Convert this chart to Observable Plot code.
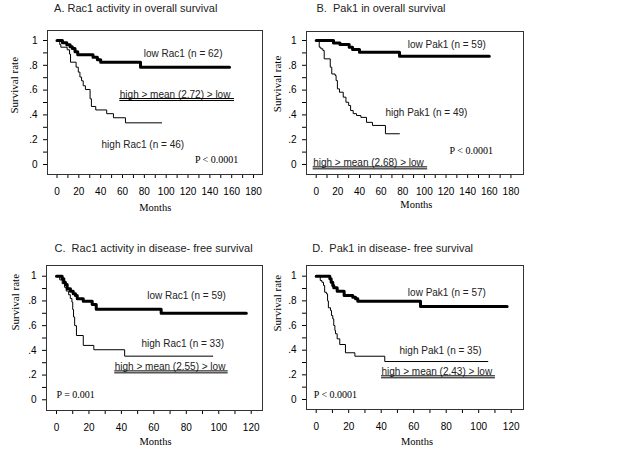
<!DOCTYPE html>
<html><head><meta charset="utf-8">
<script src="https://cdn.jsdelivr.net/npm/d3@7"></script>
<script src="https://cdn.jsdelivr.net/npm/@observablehq/plot@0.6"></script>
<style>
body{margin:0;background:#fff;}
#chart{position:relative;width:638px;height:456px;overflow:hidden;background:#fff;}
#chart svg{position:absolute;background:transparent;}
</style></head><body><div id="chart"></div>
<script>
// ---------- DATA ----------
const panelTitles = [
  "A. Rac1 activity in overall survival",
  "B.  Pak1 in overall survival",
  "C.  Rac1 activity in disease- free survival",
  "D.  Pak1 in disease- free survival"
];
const lowLabels  = ["low Rac1 (n = 62)", "low Pak1 (n = 59)", "low Rac1 (n = 59)", "low Pak1 (n = 57)"];
const highLabels = ["high Rac1 (n = 46)", "high Pak1 (n = 49)", "high Rac1 (n = 33)", "high Pak1 (n = 35)"];
const cutLabels  = ["high > mean (2.72) > low", "high > mean (2.68) > low", "high > mean (2.55) > low", "high > mean (2.43) > low"];
const pLabels    = ["P < 0.0001", "P < 0.0001", "P = 0.001", "P < 0.0001"];
const xAxisLabel = "Months";
const yAxisLabel = "Survival rate";

// y ticks
const yMajor = [0, .2, .4, .6, .8, 1];
const yMajorLabels = ["0", ".2", ".4", ".6", ".8", "1"];
const yMinor = [.1, .3, .5, .7, .9];
// x ticks
const xMajorOS = [0, 20, 40, 60, 80, 100, 120, 140, 160, 180];
const xMinorOS = [10, 30, 50, 70, 90, 110, 130, 150, 170];
const xMajorDFS = [0, 20, 40, 60, 80, 100, 120];
const xMinorDFS = [10, 30, 50, 70, 90, 110];

// A: Rac1 activity, overall survival
const aLowMonths  = [0, 5, 9, 12, 14, 16.5, 19, 33, 37, 40, 76.5, 158];
const aLowSurv    = [1, .981, .965, .95, .935, .91, .885, .865, .845, .825, .785, .785];
const aHighMonths = [0, 2.5, 3.5, 9.3, 11.5, 12.4, 17.5, 19.5, 21, 22.5, 24, 26, 30.3, 31.5, 35.5, 45.5, 51.7, 62.7, 96];
const aHighSurv   = [1, .967, .946, .925, .89, .825, .785, .745, .705, .675, .635, .605, .53, .468, .44, .41, .377, .336, .336];
// B: Pak1, overall survival
const bLowMonths  = [0, 16, 22, 30.5, 33.6, 40, 77, 160];
const bLowSurv    = [1, .98, .968, .946, .927, .906, .874, .874];
const bHighMonths = [0, 2.8, 4.3, 6.2, 7.4, 13, 14.4, 17.5, 18.4, 19.6, 21.5, 25, 27.5, 30, 31.8, 34.2, 37.3, 41.3, 46.5, 52, 64, 77];
const bHighSurv   = [1, .946, .933, .919, .852, .785, .73, .718, .677, .61, .583, .543, .502, .476, .435, .41, .395, .38, .34, .315, .248, .248];
// C: Rac1 activity, disease-free survival
const cLowMonths  = [0, 3.5, 4.5, 5.5, 6.6, 8.6, 10.3, 11.7, 12.8, 16.5, 22, 24.5, 64.5, 117];
const cLowSurv    = [1, .979, .951, .933, .898, .879, .858, .844, .817, .798, .771, .733, .70, .70];
const cHighMonths = [0, 2, 3.5, 5, 6, 7.5, 8.5, 9.5, 10, 10.5, 11.2, 12.3, 16.5, 23, 42, 96.4];
const cHighSurv   = [1, .97, .94, .91, .88, .85, .82, .79, .73, .67, .6, .52, .44, .405, .353, .353];
// D: Pak1, disease-free survival
const dLowMonths  = [0, 8.4, 9.2, 10.2, 10.8, 12.9, 17.2, 22.5, 24.2, 25.6, 64.2, 117.5];
const dLowSurv    = [1, .979, .951, .925, .906, .878, .843, .83, .817, .797, .754, .754];
const dHighMonths = [0, 2.5, 3.5, 4.5, 5.2, 6.3, 7, 7.5, 8.8, 9.4, 10.2, 10.8, 11.5, 11.9, 12.9, 14.5, 18, 23.8, 42.2, 105.8];
const dHighSurv   = [1, .965, .951, .925, .87, .857, .8, .744, .722, .681, .654, .6, .56, .533, .492, .446, .379, .351, .308, .308];

// ---------- LAYOUT (page pixels / annotation anchors) ----------
const SANS = "'Liberation Sans', Arial, Helvetica, sans-serif";
const SERIF = "'Liberation Serif', 'Times New Roman', serif";
const layouts = [
  { box:[0,0,290,228], frame:[47,262,30,174], xd:[-8.7,188.2], yd:[-0.0806,1.0806], os:true,
    title:[6.6,-22.5], ylab:[-33,11], xlabMid:90, xlabDy:33,
    low:[79.5,.895], high:[40.8,.161], cut:[57.5,.565], under:[57.5,162.6,.532,.516], p:[126.3,.04] },
  { box:[260,0,290,228], frame:[306,523,31,174], xd:[-8.96,191.6], yd:[-0.0806,1.0726], os:true,
    title:[10,-23.5], ylab:[-29,9.2], xlabMid:92.6, xlabDy:30,
    low:[84.6,.968], high:[64,.414], cut:[-2.8,.014], under:[-2.8,103,-.019,-.035], p:[123.3,.107] },
  { box:[0,230,290,226], frame:[46,262,265,410], xd:[-6.16,126.96], yd:[-0.0866,1.0866], os:false,
    title:[8,-16.7], ylab:[-31,-7.5], xlabMid:61, xlabDy:30.7,
    low:[55.9,.844], high:[52.4,.453], cut:[35.9,.269], under:[35.9,105.8,.234,.218], p:[0,.04] },
  { box:[260,230,290,226], frame:[306,523,265,409], xd:[-5.97,127.57], yd:[-0.0811,1.0868], os:false,
    title:[5.7,-16.7], ylab:[-29,-6], xlabMid:62, xlabDy:31.7,
    low:[56.4,.865], high:[51.3,.392], cut:[40.2,.221], under:[40.2,110.3,.192,.176], p:[-1.5,.035] }
];

const series = [
  [aLowMonths, aLowSurv, aHighMonths, aHighSurv],
  [bLowMonths, bLowSurv, bHighMonths, bHighSurv],
  [cLowMonths, cLowSurv, cHighMonths, cHighSurv],
  [dLowMonths, dLowSurv, dHighMonths, dHighSurv]
];

const toRows = (ts, ss) => ts.map((t, i) => ({t, s: ss[i]}));
const yFmt = d => { const i = yMajor.indexOf(d); return i >= 0 ? yMajorLabels[i] : ""; };

const root = document.getElementById("chart");
layouts.forEach((L, k) => {
  const [bx, by, bw, bh] = L.box;
  const [fx0, fx1, fy0, fy1] = L.frame;
  const [lt, ls, ht, hs] = series[k];
  const xMajor = L.os ? xMajorOS : xMajorDFS;
  const xMinor = L.os ? xMinorOS : xMinorDFS;
  const txt = (s, pos, font, size) => Plot.text([s], {
    x: () => pos[0], y: () => pos[1], text: d => d, textAnchor: "start", lineAnchor: "middle",
    fontFamily: font, fontSize: size, fill: font === SANS ? "#222" : "#000"
  });
  const svg = Plot.plot({
    width: bw, height: bh,
    marginLeft: fx0 - bx, marginRight: bx + bw - fx1,
    marginTop: fy0 - by, marginBottom: by + bh - fy1,
    style: {fontFamily: SANS, fontSize: "10px", color: "#000", background: "transparent", overflow: "visible"},
    x: {domain: L.xd, ticks: [...xMajor, ...xMinor], tickFormat: d => xMajor.includes(d) ? String(d) : "",
        tickSize: 4, tickPadding: 9, label: null},
    y: {domain: L.yd, ticks: [...yMajor, ...yMinor], tickFormat: yFmt, tickSize: 4, tickPadding: 6, label: null},
    marks: [
      Plot.frame({stroke: "#333"}),
      Plot.line(toRows(ht, hs), {x: "t", y: "s", curve: "step-after", stroke: "black", strokeWidth: 1}),
      Plot.line(toRows(lt, ls), {x: "t", y: "s", curve: "step-after", stroke: "black", strokeWidth: 3}),
      txt(lowLabels[k], L.low, SANS, 10),
      txt(highLabels[k], L.high, SANS, 10),
      txt(cutLabels[k], L.cut, SANS, 10),
      Plot.ruleY([L.under[2], L.under[3]], {y: d => d, x1: () => L.under[0], x2: () => L.under[1], stroke: "black"}),
      txt(pLabels[k], L.p, SERIF, 10),
      Plot.text([panelTitles[k]], {frameAnchor: "top-left", dx: L.title[0], dy: L.title[1], text: d => d,
        textAnchor: "start", lineAnchor: "middle", fontFamily: SANS, fontSize: 11, fill: "#222"}),
      Plot.text([xAxisLabel], {frameAnchor: "bottom", x: () => L.xlabMid, dy: L.xlabDy, text: d => d,
        lineAnchor: "middle", fontFamily: SERIF, fontSize: 10.5, fill: "#000"}),
      Plot.text([yAxisLabel], {frameAnchor: "left", dx: L.ylab[0], dy: L.ylab[1], rotate: -90, text: d => d,
        lineAnchor: "middle", fontFamily: SERIF, fontSize: 11, fill: "#000"})
    ]
  });
  svg.style.left = bx + "px";
  svg.style.top = by + "px";
  root.appendChild(svg);
});
</script>
</body></html>
